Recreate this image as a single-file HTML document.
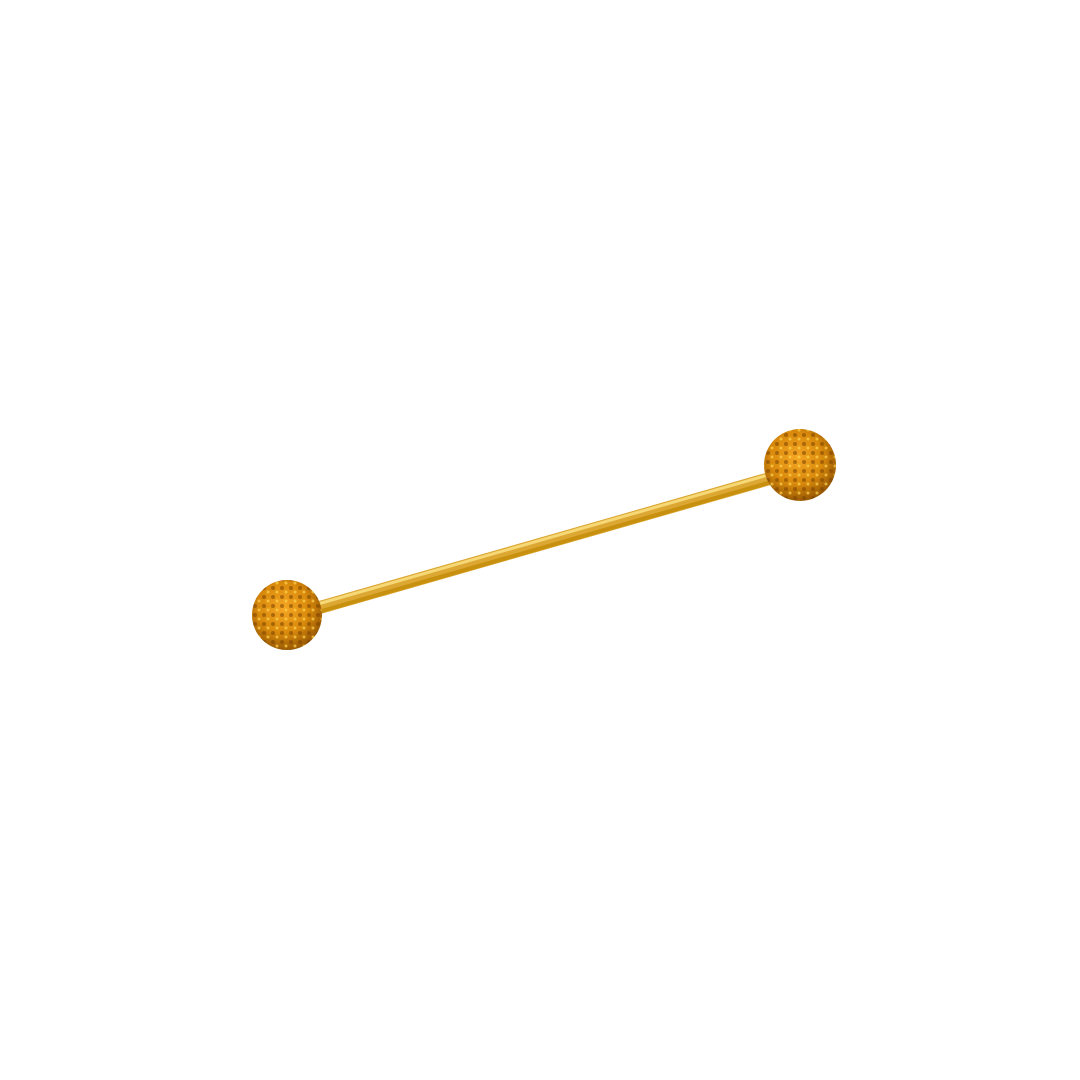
<!DOCTYPE html>
<html><head><meta charset="utf-8"><style>html,body{margin:0;padding:0;background:#fff;width:1080px;height:1080px;overflow:hidden}</style></head>
<body>
<svg width="1080" height="1080" viewBox="0 0 1080 1080" xmlns="http://www.w3.org/2000/svg">
<defs>
<radialGradient id="ball" cx="0.45" cy="0.4" r="0.6">
<stop offset="0" stop-color="#f5a623"/>
<stop offset="0.6" stop-color="#d98a0c"/>
<stop offset="1" stop-color="#9a5a04"/>
</radialGradient>
<pattern id="gems" width="9" height="9" patternUnits="userSpaceOnUse">
<circle cx="3" cy="3" r="2" fill="#7a4200" opacity="0.55"/>
<circle cx="7" cy="7" r="1.5" fill="#ffd34d" opacity="0.7"/>
</pattern>
</defs>
<line x1="318" y1="608" x2="775" y2="477" stroke="#dca733" stroke-width="13"/>
<line x1="318" y1="612" x2="775" y2="481" stroke="#c8900f" stroke-width="4"/>
<line x1="318" y1="604" x2="775" y2="473" stroke="#f6d877" stroke-width="3"/>
<circle cx="287" cy="615" r="35" fill="url(#ball)"/>
<circle cx="287" cy="615" r="35" fill="url(#gems)"/>
<circle cx="800" cy="465" r="36" fill="url(#ball)"/>
<circle cx="800" cy="465" r="36" fill="url(#gems)"/>
</svg>
</body></html>
